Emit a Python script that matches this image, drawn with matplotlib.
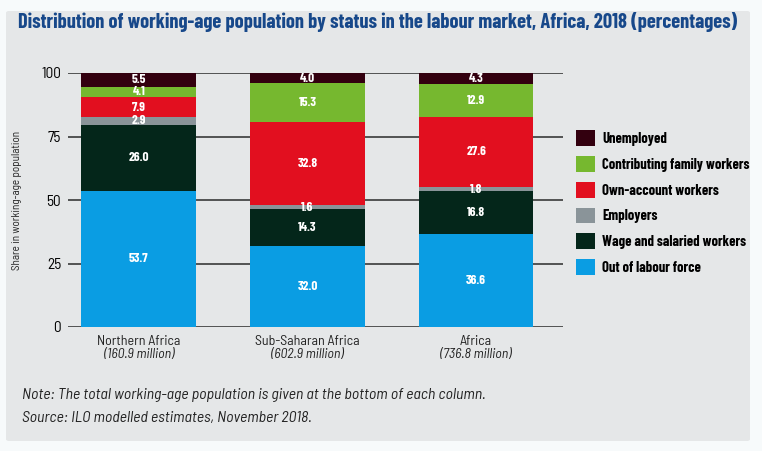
import matplotlib
matplotlib.use("Agg")
import matplotlib.pyplot as plt
from matplotlib.patches import FancyBboxPatch

regions = ["Northern Africa", "Sub-Saharan Africa", "Africa"]
populations = ["(160.9 million)", "(602.9 million)", "(736.8 million)"]

# stacked from the bottom up
series = ["Out of labour force", "Wage and salaried workers", "Employers",
          "Own-account workers", "Contributing family workers", "Unemployed"]
out_of_lf = [53.7, 32.0, 36.6]
wage = [26.0, 14.3, 16.8]
employers = [2.9, 1.6, 1.8]
own_account = [7.9, 32.8, 27.6]
contributing = [4.1, 15.3, 12.9]
unemployed = [5.5, 4.0, 4.3]
values = [out_of_lf, wage, employers, own_account, contributing, unemployed]
colors = ["#0a9de3", "#04261a", "#8a9499", "#e20f1f", "#76b82f", "#33000f"]

narrow = ["Barlow Condensed", "Liberation Sans Narrow", "DejaVu Sans"]
semi = ["Barlow Semi Condensed", "Liberation Sans", "DejaVu Sans"]

fig = plt.figure(figsize=(7.62, 4.51), dpi=100)
fig.patch.set_facecolor("#f7fafb")
panel = FancyBboxPatch((6/762, 10/451), 744/762, 430/451,
                       boxstyle="round,pad=0,rounding_size=0.004",
                       transform=fig.transFigure, facecolor="#e5e7e8",
                       edgecolor="none", zorder=-5)
fig.patches.append(panel)

fig.text(18/762, 1 - 22/451,
         "Distribution of working-age population by status in the labour market, Africa, 2018 (percentages)",
         family=narrow, fontweight="bold", fontsize=14.75, color="#17488a",
         va="center", ha="left")

ax = fig.add_axes([68/762, 1 - 327/451, (563 - 68)/762, (327 - 73)/451])
ax.set_facecolor("none")
x = list(range(len(regions)))
bottom = [0, 0, 0]
for name, vals, col in zip(series, values, colors):
    ax.bar(x, vals, 0.68, bottom=bottom, color=col, label=name, zorder=3)
    for i, v in enumerate(vals):
        ax.text(x[i], bottom[i] + v / 2, f"{v:.1f}", ha="center", va="center",
                color="white", fontsize=9.5, fontweight="bold", family=narrow,
                zorder=4)
    bottom = [b + v for b, v in zip(bottom, vals)]

ax.set_xlim(-0.42, 2.515)
ax.set_ylim(0, 100)
ax.set_yticks([0, 25, 50, 75, 100])
ax.yaxis.grid(True, color="#2a2a2a", linewidth=1.1, zorder=1)
ax.set_axisbelow(True)
ax.tick_params(axis="y", length=0, labelsize=11, pad=5)
for t in ax.get_yticklabels():
    t.set_family(semi)
ax.set_xticks(x)
ax.set_xticklabels(["" for _ in regions])
ax.tick_params(axis="x", length=0)
for s in ax.spines.values():
    s.set_visible(False)
for i in x:
    ax.text(i, -3.0, regions[i], ha="center", va="top", fontsize=10,
            family=semi, color="#222222")
    ax.text(i, -8.4, populations[i], ha="center", va="top", fontsize=10,
            family=semi, style="italic", color="#222222")

ax.set_ylabel("Share in working-age population", fontsize=8, color="#222222",
              family=semi, labelpad=14)

handles, labels = ax.get_legend_handles_labels()
leg = fig.legend(handles[::-1], labels[::-1], loc="upper left",
                 bbox_to_anchor=(563/762, 1 - 117/451), frameon=False,
                 handlelength=1.3, handleheight=1.3, handletextpad=0.5,
                 labelspacing=0.68, prop={"family": narrow, "weight": "bold",
                                          "size": 10.5})

fig.text(22/762, 1 - 395/451,
         "Note: The total working-age population is given at the bottom of each column.",
         fontsize=11.4, style="italic", family=semi, color="#222222", va="center")
fig.text(22/762, 1 - 418/451, "Source: ILO modelled estimates, November 2018.",
         fontsize=11.4, style="italic", family=semi, color="#222222", va="center")

fig.savefig("out.png", dpi=100, facecolor=fig.get_facecolor())
